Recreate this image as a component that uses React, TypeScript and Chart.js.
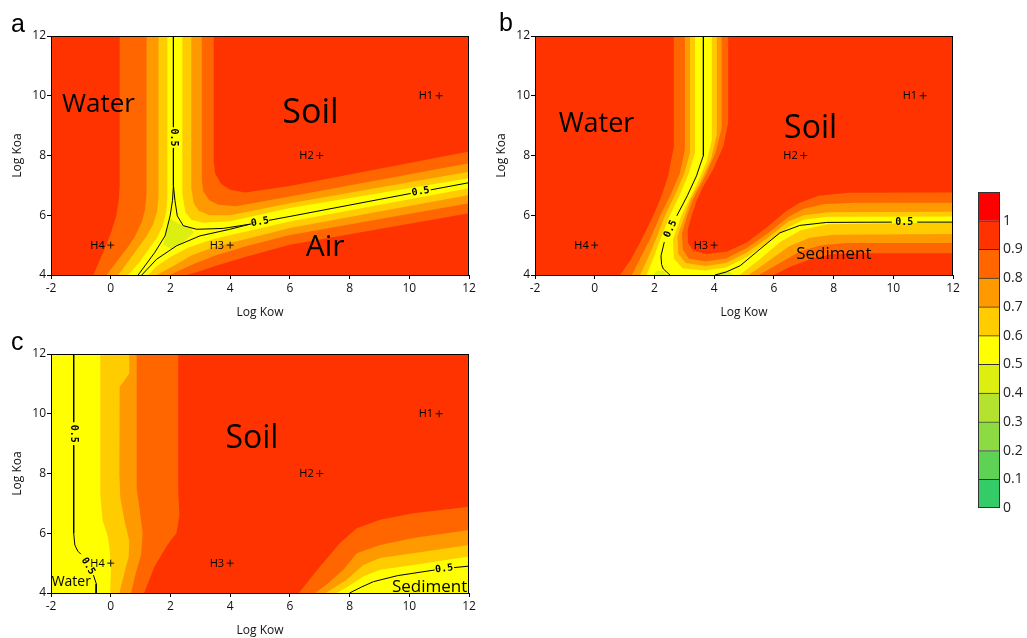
import React, { useEffect, useRef } from 'react';
import { Chart, registerables } from 'chart.js';

Chart.register(...registerables);

type XY = [number, number];
type Pt = XY | null;

const FONT = '"Open Sans", "Noto Sans", sans-serif';

// ---------------- axes ----------------
const KOW_MIN = -2;
const KOW_MAX = 12;
const KOW_STEP = 2;
const KOA_MIN = 4;
const KOA_MAX = 12;
const KOA_STEP = 2;

// ---------------- hypothetical chemicals ----------------
const H_NAMES = ['H1', 'H2', 'H3', 'H4'];
const H_LOG_KOW = [11, 7, 4, 0];
const H_LOG_KOA = [10, 8, 5, 5];

// ---------------- colour scale ----------------
const CB_LEVELS = [0, 0.1, 0.2, 0.3, 0.4, 0.5, 0.6, 0.7, 0.8, 0.9, 1.0, 1.1];
const CB_COLORS = ['#33CC66', '#5ED254', '#8CDB42', '#B4E22E', '#DDEE11', '#FFFF00', '#FFCC00', '#FF9900', '#FF6600', '#FF3300', '#FF0000'];
const BASE_LEVEL = 1.0; // fraction 0.9-1.0 fills the background

// ---------------- panel a : contour boundaries (Log Kow, Log Koa) ----------------
const A_WATER_09: XY[] = [[0.3, 12], [0.3, 7.0], [0.27, 6.5], [0.18, 5.96], [0.02, 5.45], [-0.17, 4.95], [-0.58, 4.0]];
const A_WATER_08: XY[] = [[1.2, 12], [1.2, 6.7], [1.15, 6.2], [1.05, 5.8], [0.81, 5.29], [0.59, 4.95], [0.25, 4.51], [-0.14, 4.0]];
const A_WATER_07: XY[] = [[1.6, 12], [1.6, 6.6], [1.55, 6.1], [1.42, 5.7], [1.2, 5.3], [0.95, 4.95], [0.62, 4.5], [0.25, 4.0]];
const A_WATER_06: XY[] = [[1.9, 12], [1.9, 6.6], [1.86, 6.1], [1.74, 5.65], [1.55, 5.25], [1.3, 4.9], [0.98, 4.45], [0.59, 4.0]];
const A_AIR_06: XY[] = [[1.25, 4.0], [1.55, 4.3], [2.0, 4.6], [2.6, 4.92], [3.5, 5.22], [4.5, 5.45], [6, 5.79], [12, 6.9]];
const A_AIR_07: XY[] = [[1.54, 4.0], [2.1, 4.3], [2.7, 4.65], [3.5, 4.95], [4.5, 5.2], [6, 5.57], [12, 6.68]];
const A_AIR_08: XY[] = [[1.98, 4.0], [2.3, 4.15], [2.8, 4.38], [3.5, 4.65], [4.5, 4.95], [6, 5.34], [12, 6.4]];
const A_AIR_09: XY[] = [[2.55, 4.0], [2.9, 4.1], [3.5, 4.3], [4.5, 4.6], [6, 5.01], [12, 6.07]];
const A_SOIL_06: XY[] = [[12, 7.24], [6, 6.24], [4.0, 5.8], [3.1, 5.75], [2.7, 5.85], [2.5, 6.1], [2.4, 6.7], [2.4, 12]];
const A_SOIL_07: XY[] = [[12, 7.46], [6, 6.4], [4.0, 6.0], [3.3, 6.0], [2.95, 6.15], [2.78, 6.4], [2.7, 6.9], [2.7, 12]];
const A_SOIL_08: XY[] = [[12, 7.74], [6, 6.63], [4.2, 6.3], [3.6, 6.35], [3.3, 6.5], [3.1, 6.8], [3.05, 7.2], [3.05, 12]];
const A_SOIL_09: XY[] = [[12, 8.13], [6, 6.98], [4.5, 6.76], [4.0, 6.85], [3.7, 7.05], [3.5, 7.4], [3.45, 7.8], [3.45, 12]];
const A_UNDER_05: XY[] = [[1.99, 5.9], [2.25, 5.72], [2.7, 5.56], [2.78, 5.42], [2.45, 5.12], [2.05, 4.86], [1.76, 5.02], [1.86, 5.4]];
const A_LINE_WATER: Pt[] = [[2.1, 12], [2.1, 8.95], null, [2.1, 8.25], [2.1, 7.0], [2.07, 6.5], [1.99, 5.98], [1.82, 5.31], [1.48, 4.76], [0.92, 4.0]];
const A_LINE_SOIL: Pt[] = [[2.1, 7.0], [2.15, 6.5], [2.23, 5.98], [2.43, 5.65], [2.88, 5.53], [3.77, 5.56], [4.66, 5.7]];
const A_LINE_AIR: Pt[] = [[1.04, 4.0], [1.54, 4.53], [2.21, 4.98], [2.99, 5.31], [3.99, 5.53], [4.66, 5.7]];
const A_LINE_DIAG: Pt[] = [[4.66, 5.7], [4.72, 5.71], null, [5.3, 5.83], [6, 5.96], [8, 6.34], [10.05, 6.73], null, [10.72, 6.85], [12, 7.09]];

// ---------------- panel b ----------------
const B_WATER_09: XY[] = [[2.65, 12], [2.65, 8.3], [2.46, 7.32], [2.24, 6.65], [1.96, 5.98], [1.52, 5.09], [1.2, 4.5], [0.85, 4.0]];
const B_WATER_08: XY[] = [[3.02, 12], [3.02, 8.2], [2.85, 7.4], [2.55, 6.7], [2.2, 6.0], [1.85, 5.2], [1.55, 4.6], [1.24, 4.0]];
const B_WATER_07: XY[] = [[3.19, 12], [3.19, 8.1], [3.0, 7.4], [2.7, 6.7], [2.36, 6.0], [2.05, 5.2], [1.8, 4.6], [1.52, 4.0]];
const B_WATER_06: XY[] = [[3.36, 12], [3.36, 8.1], [3.15, 7.4], [2.86, 6.7], [2.52, 6.0], [2.2, 5.2], [1.98, 4.6], [1.74, 4.0]];
const B_SED_06: XY[] = [[4.85, 4.0], [5.5, 4.5], [6.2, 5.1], [6.9, 5.5], [7.8, 5.7], [12, 5.76]];
const B_SED_07: XY[] = [[5.15, 4.0], [5.8, 4.45], [6.5, 4.95], [7.2, 5.25], [8.0, 5.35], [12, 5.37]];
const B_SED_08: XY[] = [[5.5, 4.0], [6.2, 4.4], [6.9, 4.8], [7.6, 5.0], [8.4, 5.07], [12, 5.07]];
const B_SED_09: XY[] = [[6.0, 4.0], [6.6, 4.3], [7.3, 4.55], [8.0, 4.7], [9.0, 4.73], [12, 4.73]];
const B_SOIL_09: XY[] = [[12, 6.76], [8.5, 6.75], [7.5, 6.65], [6.87, 6.42], [6.43, 6.15], [5.76, 5.59], [5.09, 5.09], [4.42, 4.78], [3.75, 4.7], [3.3, 4.81], [3.12, 5.09], [3.12, 5.53], [3.25, 6.0], [3.4, 6.45], [3.6, 6.9], [3.97, 7.54], [4.31, 8.32], [4.47, 9.1], [4.47, 12]];
const B_SOIL_08: XY[] = [[12, 6.42], [8.7, 6.42], [7.7, 6.38], [7.0, 6.22], [6.5, 5.95], [5.8, 5.4], [5.1, 4.9], [4.4, 4.55], [3.7, 4.45], [3.15, 4.55], [2.95, 4.85], [2.92, 5.4], [3.1, 6.0], [3.3, 6.55], [3.72, 7.35], [4.05, 8.1], [4.25, 8.9], [4.25, 12]];
const B_SOIL_07: XY[] = [[12, 6.12], [7.8, 6.1], [7.0, 6.0], [6.5, 5.8], [5.8, 5.25], [5.1, 4.75], [4.4, 4.4], [3.7, 4.3], [3.05, 4.4], [2.8, 4.7], [2.77, 5.3], [3.02, 6.0], [3.2, 6.5], [3.58, 7.2], [3.9, 7.9], [4.09, 8.7], [4.09, 12]];
const B_SOIL_06: XY[] = [[12, 5.96], [7.8, 5.95], [7.0, 5.85], [6.5, 5.6], [5.8, 5.1], [5.1, 4.6], [4.4, 4.25], [3.7, 4.15], [2.95, 4.22], [2.65, 4.55], [2.62, 5.2], [2.91, 6.0], [3.1, 6.4], [3.45, 7.1], [3.75, 7.8], [3.92, 8.5], [3.92, 12]];
const B_UNDER_05_L: XY[] = [[1.96, 4.0], [2.08, 4.14], [2.3, 4.14], [2.41, 4.0]];
const B_UNDER_05_R: XY[] = [[4.1, 4.0], [4.25, 4.12], [4.5, 4.12], [4.63, 4.0]];
const B_LINE_WATER: Pt[] = [[3.64, 12], [3.64, 8.0], [3.52, 7.65], [3.41, 7.32], [3.1, 6.65], [2.75, 5.98], null, [2.33, 5.1], [2.22, 4.64], [2.24, 4.35], [2.3, 4.2], [2.52, 4.0]];
const B_LINE_SED: Pt[] = [[4.03, 4.0], [4.4, 4.1], [4.87, 4.31], [5.54, 4.87], [6.2, 5.41], [6.87, 5.66], [7.77, 5.76], [9.95, 5.77], null, [10.8, 5.77], [12, 5.77]];

// ---------------- panel c ----------------
const C_LEFT_09: XY[] = [[-2, 12], [2.26, 12], [2.26, 7.4], [2.3, 6.6], [2.2, 6.0], [2.0, 5.75], [1.85, 5.53], [1.46, 4.87], [1.12, 4.0], [-2, 4]];
const C_LEFT_08: XY[] = [[-2, 12], [0.87, 12], [0.87, 7.5], [0.96, 6.87], [1.07, 6.0], [1.02, 5.3], [0.85, 4.7], [0.68, 4.0], [-2, 4]];
const C_LEFT_07: XY[] = [[-2, 12], [0.62, 12], [0.62, 11.35], [0.45, 11.1], [0.3, 10.9], [0.29, 8.0], [0.32, 7.2], [0.46, 6.42], [0.62, 5.76], [0.6, 5.2], [0.51, 4.87], [0.29, 4.0], [-2, 4]];
const C_LEFT_06: XY[] = [[-2, 12], [-0.35, 12], [-0.35, 7.3], [-0.27, 6.42], [-0.1, 5.9], [-0.04, 5.5], [0.01, 4.87], [-0.02, 4.0], [-2, 4]];
const C_SED_09: XY[] = [[12, 4], [12, 6.89], [10.13, 6.67], [9.02, 6.45], [8.24, 6.17], [7.68, 5.67], [7.01, 4.89], [6.3, 4.0]];
const C_SED_08: XY[] = [[12, 4], [12, 6.11], [10.13, 5.84], [9.02, 5.61], [8.24, 5.33], [7.79, 4.78], [7.25, 4.3], [6.85, 4.0]];
const C_SED_07: XY[] = [[12, 4], [12, 5.61], [10.13, 5.33], [9.02, 5.17], [8.46, 4.94], [7.9, 4.44], [7.2, 4.0]];
const C_SED_06: XY[] = [[12, 4], [12, 5.22], [10.13, 4.94], [9.02, 4.78], [8.46, 4.55], [8.0, 4.25], [7.57, 4.0]];
const C_LINE_WATER: Pt[] = [[-1.24, 12], [-1.24, 9.72], null, [-1.24, 8.95], [-1.24, 6.0], [-1.2, 5.6], [-1.1, 5.4], [-1.0, 5.3], null, [-0.58, 4.6], [-0.48, 4.3], [-0.49, 4.0]];
const C_LINE_SED: Pt[] = [[8.0, 4.0], [8.4, 4.2], [8.8, 4.38], [9.6, 4.58], [10.85, 4.77], null, [11.5, 4.85], [12, 4.9]];

// ---------------- annotations (text placed through the scales) ----------------
interface Label { text: string; x: number; y: number; size: number }
interface CLabel { x: number; y: number; angle: number }

const A_LABELS: Label[] = [
  { text: 'Water', x: -0.41, y: 9.46, size: 26 },
  { text: 'Soil', x: 6.69, y: 9.08, size: 34 },
  { text: 'Air', x: 7.18, y: 4.64, size: 30 },
];
const B_LABELS: Label[] = [
  { text: 'Water', x: 0.06, y: 8.77, size: 27 },
  { text: 'Soil', x: 7.23, y: 8.6, size: 32 },
  { text: 'Sediment', x: 8.01, y: 4.54, size: 17 },
];
const C_LABELS: Label[] = [
  { text: 'Soil', x: 4.73, y: 8.85, size: 32 },
  { text: 'Water', x: -1.32, y: 4.22, size: 14 },
  { text: 'Sediment', x: 10.68, y: 4.05, size: 17 },
];
const A_CLABELS: CLabel[] = [
  { x: 2.1, y: 8.6, angle: 90 },
  { x: 5.0, y: 5.77, angle: -10.6 },
  { x: 10.38, y: 6.79, angle: -10.6 },
];
const B_CLABELS: CLabel[] = [
  { x: 2.54, y: 5.54, angle: -65 },
  { x: 10.37, y: 5.77, angle: 0 },
];
const C_CLABELS: CLabel[] = [
  { x: -1.24, y: 9.33, angle: 90 },
  { x: -0.76, y: 4.9, angle: 59 },
  { x: 11.17, y: 4.81, angle: -7 },
];

interface Band { poly: XY[]; level: number }
interface PanelSpec {
  letter: string;
  letterX: number;
  letterY: number;
  bands: Band[];
  lines: Pt[][];
  labels: Label[];
  clabels: CLabel[];
}

const PANEL_A: PanelSpec = {
  letter: 'a', letterX: 11, letterY: 32,
  bands: [
    { poly: [...A_WATER_09, ...A_AIR_09, ...A_SOIL_09], level: 0.9 },
    { poly: [...A_WATER_08, ...A_AIR_08, ...A_SOIL_08], level: 0.8 },
    { poly: [...A_WATER_07, ...A_AIR_07, ...A_SOIL_07], level: 0.7 },
    { poly: [...A_WATER_06, ...A_AIR_06, ...A_SOIL_06], level: 0.6 },
    { poly: A_UNDER_05, level: 0.5 },
  ],
  lines: [A_LINE_WATER, A_LINE_SOIL, A_LINE_AIR, A_LINE_DIAG],
  labels: A_LABELS,
  clabels: A_CLABELS,
};

const PANEL_B: PanelSpec = {
  letter: 'b', letterX: 15, letterY: 31,
  bands: [
    { poly: [...B_WATER_09, ...B_SED_09, ...B_SOIL_09], level: 0.9 },
    { poly: [...B_WATER_08, ...B_SED_08, ...B_SOIL_08], level: 0.8 },
    { poly: [...B_WATER_07, ...B_SED_07, ...B_SOIL_07], level: 0.7 },
    { poly: [...B_WATER_06, ...B_SED_06, ...B_SOIL_06], level: 0.6 },
    { poly: B_UNDER_05_L, level: 0.5 },
    { poly: B_UNDER_05_R, level: 0.5 },
  ],
  lines: [B_LINE_WATER, B_LINE_SED],
  labels: B_LABELS,
  clabels: B_CLABELS,
};

const PANEL_C: PanelSpec = {
  letter: 'c', letterX: 11, letterY: 32,
  bands: [
    { poly: C_LEFT_09, level: 0.9 },
    { poly: C_SED_09, level: 0.9 },
    { poly: C_LEFT_08, level: 0.8 },
    { poly: C_SED_08, level: 0.8 },
    { poly: C_LEFT_07, level: 0.7 },
    { poly: C_SED_07, level: 0.7 },
    { poly: C_LEFT_06, level: 0.6 },
    { poly: C_SED_06, level: 0.6 },
  ],
  lines: [C_LINE_WATER, C_LINE_SED],
  labels: C_LABELS,
  clabels: C_CLABELS,
};

function bandColor(level: number): string {
  return CB_COLORS[Math.round(level * 10) - 1];
}

function toData(pts: Pt[]) {
  return pts.map((p) => (p ? { x: p[0], y: p[1] } : { x: null, y: null }));
}

function makeDecor(spec: PanelSpec) {
  return {
    id: 'panelDecor',
    beforeDatasetsDraw(chart: any) {
      const { ctx, chartArea: a } = chart;
      ctx.save();
      ctx.fillStyle = bandColor(BASE_LEVEL);
      ctx.fillRect(a.left, a.top, a.right - a.left, a.bottom - a.top);
      ctx.restore();
    },
    afterDatasetsDraw(chart: any) {
      const { ctx, chartArea: a, scales } = chart;
      const sx = scales.x;
      const sy = scales.y;
      ctx.save();
      ctx.fillStyle = '#000';
      // contour labels
      ctx.font = 'bold 10px "DejaVu Sans Mono", monospace';
      ctx.textAlign = 'center';
      ctx.textBaseline = 'middle';
      for (const c of spec.clabels) {
        ctx.save();
        ctx.translate(sx.getPixelForValue(c.x), sy.getPixelForValue(c.y));
        ctx.rotate((c.angle * Math.PI) / 180);
        ctx.fillText('0.5', 0, 0);
        ctx.restore();
      }
      // region names
      ctx.textBaseline = 'alphabetic';
      for (const l of spec.labels) {
        ctx.font = `${l.size}px ${FONT}`;
        ctx.fillText(l.text, sx.getPixelForValue(l.x), sy.getPixelForValue(l.y));
      }
      // hypothetical chemical names
      ctx.font = `11px ${FONT}`;
      ctx.textAlign = 'right';
      ctx.textBaseline = 'middle';
      H_NAMES.forEach((n, i) => {
        ctx.fillText(n, sx.getPixelForValue(H_LOG_KOW[i]) - 6, sy.getPixelForValue(H_LOG_KOA[i]) + 0.5);
      });
      // frame
      ctx.strokeStyle = '#000';
      ctx.lineWidth = 1;
      ctx.strokeRect(a.left + 0.5, a.top + 0.5, a.right - a.left - 1, a.bottom - a.top);
      ctx.restore();
    },
    afterDraw(chart: any) {
      const ctx = chart.ctx;
      ctx.save();
      ctx.fillStyle = '#000';
      ctx.font = '25px "Liberation Sans", Arial, sans-serif';
      ctx.textAlign = 'left';
      ctx.textBaseline = 'alphabetic';
      ctx.fillText(spec.letter, spec.letterX, spec.letterY);
      ctx.restore();
    },
  };
}

function panelConfig(spec: PanelSpec): any {
  const datasets: any[] = [];
  spec.bands.forEach((b) =>
    datasets.push({
      data: toData(b.poly),
      fill: 'shape',
      backgroundColor: bandColor(b.level),
      borderColor: 'rgba(0,0,0,0)',
      borderWidth: 0,
      pointRadius: 0,
      tension: 0,
    })
  );
  spec.lines.forEach((l) =>
    datasets.push({
      data: toData(l),
      fill: false,
      borderColor: '#000',
      borderWidth: 1,
      pointRadius: 0,
      tension: 0,
      spanGaps: false,
    })
  );
  datasets.push({
    data: H_LOG_KOW.map((x, i) => ({ x, y: H_LOG_KOA[i] })),
    showLine: false,
    pointStyle: 'cross',
    pointRadius: 3.5,
    borderColor: '#111',
    backgroundColor: '#111',
    borderWidth: 1,
  });
  const n = datasets.length;
  datasets.forEach((d, i) => {
    d.order = n - i;
  });
  const tickFont = { family: FONT, size: 12 };
  return {
    type: 'line',
    data: { datasets },
    options: {
      responsive: false,
      animation: false,
      events: [],
      layout: { padding: { left: 0, top: 36, right: 21, bottom: 0 } },
      plugins: { legend: { display: false }, tooltip: { enabled: false }, title: { display: false } },
      scales: {
        x: {
          type: 'linear',
          min: KOW_MIN,
          max: KOW_MAX,
          afterFit: (s: any) => {
            s.height = 55;
          },
          ticks: { stepSize: KOW_STEP, color: '#111', font: tickFont, padding: 2, maxRotation: 0, autoSkip: false },
          grid: { display: true, drawOnChartArea: false, drawTicks: true, tickLength: 4, color: '#000', tickColor: '#000' },
          border: { display: true, color: '#000', width: 1 },
          title: { display: true, text: 'Log Kow', color: '#111', font: tickFont, padding: { top: 0, bottom: 10 } },
        },
        y: {
          type: 'linear',
          min: KOA_MIN,
          max: KOA_MAX,
          afterFit: (s: any) => {
            s.width = 51;
          },
          ticks: { stepSize: KOA_STEP, color: '#111', font: tickFont, padding: 1 },
          grid: { display: true, drawOnChartArea: false, drawTicks: true, tickLength: 4, color: '#000', tickColor: '#000' },
          border: { display: true, color: '#000', width: 1 },
          title: { display: true, text: 'Log Koa', color: '#111', font: tickFont, padding: { top: 10, bottom: 0 } },
        },
      },
    },
    plugins: [makeDecor(spec)],
  };
}

function colorbarConfig(): any {
  const datasets = CB_COLORS.map((c, i) => ({
    data: [[CB_LEVELS[i], CB_LEVELS[i + 1]]],
    backgroundColor: c,
    borderColor: '#333',
    borderWidth: 1,
    grouped: false,
    barPercentage: 1,
    categoryPercentage: 1,
  }));
  return {
    type: 'bar',
    data: { labels: [''], datasets },
    options: {
      responsive: false,
      animation: false,
      events: [],
      layout: { padding: { left: 38, top: 12, right: 0, bottom: 22 } },
      plugins: { legend: { display: false }, tooltip: { enabled: false } },
      scales: {
        x: { display: false },
        y: {
          position: 'right',
          min: 0,
          max: 1.1,
          afterFit: (s: any) => {
            s.width = 27;
          },
          ticks: {
            stepSize: 0.1,
            color: '#222',
            font: { family: FONT, size: 14 },
            padding: 3,
            callback: (v: number) => (v > 1.05 ? '' : String(Math.round(v * 10) / 10)),
          },
          grid: { display: false, drawTicks: false, tickLength: 0 },
          border: { display: false },
        },
      },
    },
    plugins: [
      {
        id: 'cbFrame',
        afterDatasetsDraw(chart: any) {
          const { ctx, chartArea: a } = chart;
          ctx.save();
          ctx.strokeStyle = '#333';
          ctx.lineWidth = 1;
          ctx.strokeRect(a.left + 0.5, a.top + 0.5, a.right - a.left - 1, a.bottom - a.top - 1);
          ctx.restore();
        },
      },
    ],
  };
}

function ChartCanvas(props: { make: () => any; left: number; top: number; width: number; height: number }) {
  const ref = useRef<HTMLCanvasElement>(null);
  useEffect(() => {
    const chart = new Chart(ref.current as HTMLCanvasElement, props.make());
    return () => chart.destroy();
  }, []);
  return (
    <canvas
      ref={ref}
      width={props.width}
      height={props.height}
      style={{ position: 'absolute', left: props.left, top: props.top, width: props.width, height: props.height }}
    />
  );
}

export default function App() {
  return (
    <div style={{ position: 'absolute', left: 0, top: 0, width: 1027, height: 638, overflow: 'hidden', background: '#fff' }}>
      <ChartCanvas make={() => panelConfig(PANEL_A)} left={0} top={0} width={490} height={330} />
      <ChartCanvas make={() => panelConfig(PANEL_B)} left={484} top={0} width={490} height={330} />
      <ChartCanvas make={() => panelConfig(PANEL_C)} left={0} top={318} width={490} height={330} />
      <ChartCanvas make={colorbarConfig} left={940} top={180} width={87} height={350} />
    </div>
  );
}
